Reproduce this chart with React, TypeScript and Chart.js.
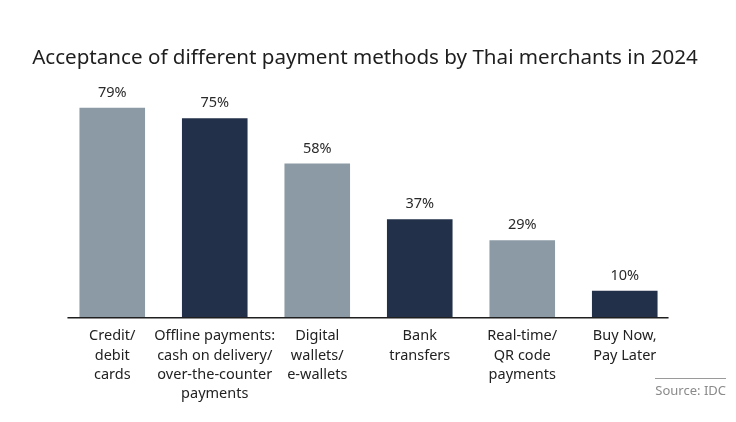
import React, { useEffect, useRef } from 'react';
import { Chart, registerables } from 'chart.js';

Chart.register(...registerables);

const categories: string[][] = [
  ['Credit/', 'debit', 'cards'],
  ['Offline payments:', 'cash on delivery/', 'over-the-counter', 'payments'],
  ['Digital', 'wallets/', 'e-wallets'],
  ['Bank', 'transfers'],
  ['Real-time/', 'QR code', 'payments'],
  ['Buy Now,', 'Pay Later'],
];
const acceptance = [79, 75, 58, 37, 29, 10];
const barColors = ['#8c9aa5', '#22304a', '#8c9aa5', '#22304a', '#8c9aa5', '#22304a'];

const TITLE = 'Acceptance of different payment methods by Thai merchants in 2024';
const SOURCE = 'Source: IDC';
const FONT = '"Noto Sans", "Open Sans", sans-serif';

const extras = {
  id: 'extras',
  afterDatasetsDraw(chart: any) {
    const { ctx, chartArea } = chart;
    const meta = chart.getDatasetMeta(0);
    ctx.save();
    // baseline, a little wider than the outer bars
    const first = meta.data[0];
    const last = meta.data[meta.data.length - 1];
    ctx.strokeStyle = '#1f1f1f';
    ctx.lineWidth = 1.5;
    ctx.beginPath();
    ctx.moveTo(first.x - first.width / 2 - 12, chartArea.bottom + 0.5);
    ctx.lineTo(last.x + last.width / 2 + 11, chartArea.bottom + 0.5);
    ctx.stroke();

    ctx.font = `14.5px ${FONT}`;
    ctx.fillStyle = '#2a2a2a';
    ctx.textAlign = 'center';
    ctx.textBaseline = 'middle';
    meta.data.forEach((bar: any, i: number) => {
      ctx.fillText(`${acceptance[i]}%`, bar.x, bar.y - 15);
    });
    ctx.restore();
  },
  afterDraw(chart: any) {
    const { ctx } = chart;
    ctx.save();
    ctx.font = `20.6px ${FONT}`;
    ctx.fillStyle = '#1e1e1e';
    ctx.textAlign = 'center';
    ctx.textBaseline = 'middle';
    ctx.fillText(TITLE, 365, 58);

    ctx.strokeStyle = '#9a9a9a';
    ctx.lineWidth = 1;
    ctx.beginPath();
    ctx.moveTo(655, 378.5);
    ctx.lineTo(726, 378.5);
    ctx.stroke();

    ctx.font = `13px ${FONT}`;
    ctx.fillStyle = '#8a8a8a';
    ctx.textAlign = 'right';
    ctx.fillText(SOURCE, 726, 391);
    ctx.restore();
  },
};

const App: React.FC = () => {
  const chartRef = useRef<HTMLCanvasElement>(null);

  useEffect(() => {
    if (!chartRef.current) return;
    const chart = new Chart(chartRef.current, {
      type: 'bar',
      data: {
        labels: categories,
        datasets: [
          {
            data: acceptance,
            backgroundColor: barColors,
            barPercentage: 0.64,
            categoryPercentage: 1,
          },
        ],
      },
      options: {
        responsive: true,
        maintainAspectRatio: false,
        animation: false,
        layout: { padding: { left: 61, right: 60, top: 52, bottom: 9 } },
        plugins: {
          legend: { display: false },
          title: { display: false },
          tooltip: { enabled: false },
        },
        scales: {
          x: {
            grid: { display: false, drawTicks: false },
            border: { display: false },
            ticks: {
              color: '#222',
              font: { family: FONT, size: 14.5, lineHeight: 1.34 },
              padding: 9,
              maxRotation: 0,
              minRotation: 0,
              autoSkip: false,
            },
          },
          y: { display: false, min: 0, max: 100 },
        },
      },
      plugins: [extras],
    });
    return () => chart.destroy();
  }, []);

  return (
    <div style={{ position: 'absolute', left: 0, top: 0, width: 736, height: 422, background: '#fff' }}>
      <canvas ref={chartRef} />
    </div>
  );
};

export default App;
